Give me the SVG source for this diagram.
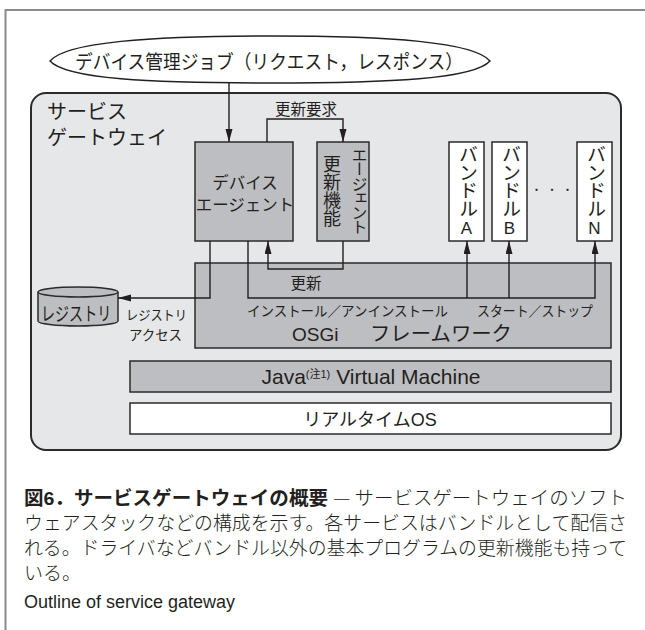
<svg xmlns="http://www.w3.org/2000/svg" width="645" height="630" viewBox="0 0 645 630">
<defs>
<marker id="ah" markerUnits="userSpaceOnUse" markerWidth="14" markerHeight="8" refX="13" refY="3.5" orient="auto">
<path d="M0,0 L13,3.5 L0,7 Z" fill="#231f20"/>
</marker>
<style>
text{font-family:"Liberation Sans","Noto Sans CJK JP",sans-serif;fill:#231f20}
.box{fill:#bdbec1;stroke:#2b2b2b;stroke-width:1.5}
.wbox{fill:#ffffff;stroke:#2b2b2b;stroke-width:1.5}
.con{fill:none;stroke:#231f20;stroke-width:1.4}
.vt{writing-mode:vertical-rl}
.cap{font-family:"Noto Sans CJK JP",sans-serif;font-weight:300}
</style>
</defs>
<rect width="645" height="630" fill="#ffffff"/>
<path d="M5.5,630 L5.5,10 L645,10" fill="none" stroke="#8c8c8c" stroke-width="2"/>

<g id="job">
<path d="M50,61 C66,42 150,36 270,36 C390,36 474,42 490,61 C474,79 390,83 270,83 C150,83 66,79 50,61 Z" fill="#ffffff" stroke="#231f20" stroke-width="1.4"/>
<text x="75" y="69" font-size="19.5" textLength="388" lengthAdjust="spacingAndGlyphs">デバイス管理ジョブ（リクエスト，レスポンス）</text>
</g>

<g id="gateway">
<rect x="31" y="93" width="590" height="357" rx="15" fill="#e6e7e9" stroke="#2b2b2b" stroke-width="2"/>
<text x="47" y="119" font-size="20">サービス</text>
<text x="47" y="145" font-size="20">ゲートウェイ</text>
</g>

<g id="device-agent">
<rect class="box" x="195" y="142" width="98" height="99"/>
<text x="245" y="189" font-size="16.5" text-anchor="middle">デバイス</text>
<text x="245" y="211" font-size="16.5" text-anchor="middle">エージェント</text>
</g>

<g id="agent-updater">
<rect class="box" x="317" y="142" width="52" height="99"/>
<text class="vt" x="358" y="147" font-size="16" letter-spacing="-1.6">エージェント</text>
<text class="vt" x="330" y="155" font-size="18">更新機能</text>
</g>

<g id="bundle-a">
<rect class="wbox" x="449" y="142" width="35" height="99"/>
<text class="vt" x="466.5" y="145" font-size="19" letter-spacing="-1">バンドル</text>
<text x="466.5" y="234" font-size="17" text-anchor="middle">A</text>
</g>
<g id="bundle-b">
<rect class="wbox" x="492" y="142" width="35" height="99"/>
<text class="vt" x="509.5" y="145" font-size="19" letter-spacing="-1">バンドル</text>
<text x="509.5" y="234" font-size="17" text-anchor="middle">B</text>
</g>
<g id="bundle-dots">
<text x="531" y="194" font-size="11" letter-spacing="4.5" font-family="Noto Sans CJK JP">・・・</text>
</g>
<g id="bundle-n">
<rect class="wbox" x="577" y="142" width="35" height="99"/>
<text class="vt" x="594.5" y="145" font-size="19" letter-spacing="-1">バンドル</text>
<text x="594.5" y="234" font-size="17" text-anchor="middle">N</text>
</g>

<g id="osgi">
<rect class="box" x="195" y="263" width="416" height="85"/>
<text x="292" y="341" font-size="19">OSGi</text>
<text x="370" y="341" font-size="20" textLength="142" lengthAdjust="spacingAndGlyphs">フレームワーク</text>
</g>

<g id="jvm">
<rect class="box" x="130" y="361" width="481" height="31"/>
<text x="371" y="384" font-size="21" text-anchor="middle">Java<tspan font-size="11" dy="-6">(注1)</tspan><tspan dy="6"> Virtual Machine</tspan></text>
</g>

<g id="rtos">
<rect class="wbox" x="130" y="403" width="481" height="31"/>
<text x="370" y="426" font-size="18" text-anchor="middle">リアルタイムOS</text>
</g>

<g id="registry">
<path d="M38,292 L38,321 A40,5 0 0 0 118,321 L118,292" class="box"/>
<ellipse cx="78" cy="292" rx="40" ry="5" class="box"/>
<text transform="translate(41,321) scale(0.74,1)" x="0" y="0" font-size="19">レジストリ</text>
</g>

<g id="connectors">
<path class="con" d="M229,83 L229,142" marker-end="url(#ah)"/>
<path class="con" d="M267,142 L267,119 L343,119 L343,142" marker-end="url(#ah)"/>
<path class="con" d="M343,241 L343,269 L268,269 L268,241" marker-end="url(#ah)"/>
<path class="con" d="M210,241 L210,298 L118,298" marker-end="url(#ah)"/>
<path class="con" d="M248,241 L248,298 L595,298 L595,241" marker-end="url(#ah)"/>
<path class="con" d="M467,298 L467,241" marker-end="url(#ah)"/>
<path class="con" d="M509,298 L509,241" marker-end="url(#ah)"/>
<text x="306" y="115" font-size="15.5" text-anchor="middle">更新要求</text>
<text x="306" y="289" font-size="15.5" text-anchor="middle">更新</text>
<text x="126" y="320" font-size="13.5" textLength="61" lengthAdjust="spacingAndGlyphs">レジストリ</text>
<text x="129" y="340" font-size="13.5" textLength="53" lengthAdjust="spacingAndGlyphs">アクセス</text>
<text x="247" y="316" font-size="14" textLength="201" lengthAdjust="spacingAndGlyphs">インストール／アンインストール</text>
<text x="477" y="316" font-size="14" textLength="116" lengthAdjust="spacingAndGlyphs">スタート／ストップ</text>
</g>

<g id="caption">
<text x="24" y="505" font-size="19" font-weight="bold" font-family="Noto Sans CJK JP" textLength="304" lengthAdjust="spacingAndGlyphs">図6．サービスゲートウェイの概要</text>
<text class="cap" x="333" y="505" font-size="19" textLength="294" lengthAdjust="spacingAndGlyphs">— サービスゲートウェイのソフト</text>
<text class="cap" x="24" y="530" font-size="19" textLength="603" lengthAdjust="spacingAndGlyphs">ウェアスタックなどの構成を示す。各サービスはバンドルとして配信さ</text>
<text class="cap" x="24" y="555" font-size="19" textLength="603" lengthAdjust="spacingAndGlyphs">れる。ドライバなどバンドル以外の基本プログラムの更新機能も持って</text>
<text class="cap" x="24" y="580" font-size="19">いる。</text>
<text x="24" y="608" font-size="18">Outline of service gateway</text>
</g>
</svg>
